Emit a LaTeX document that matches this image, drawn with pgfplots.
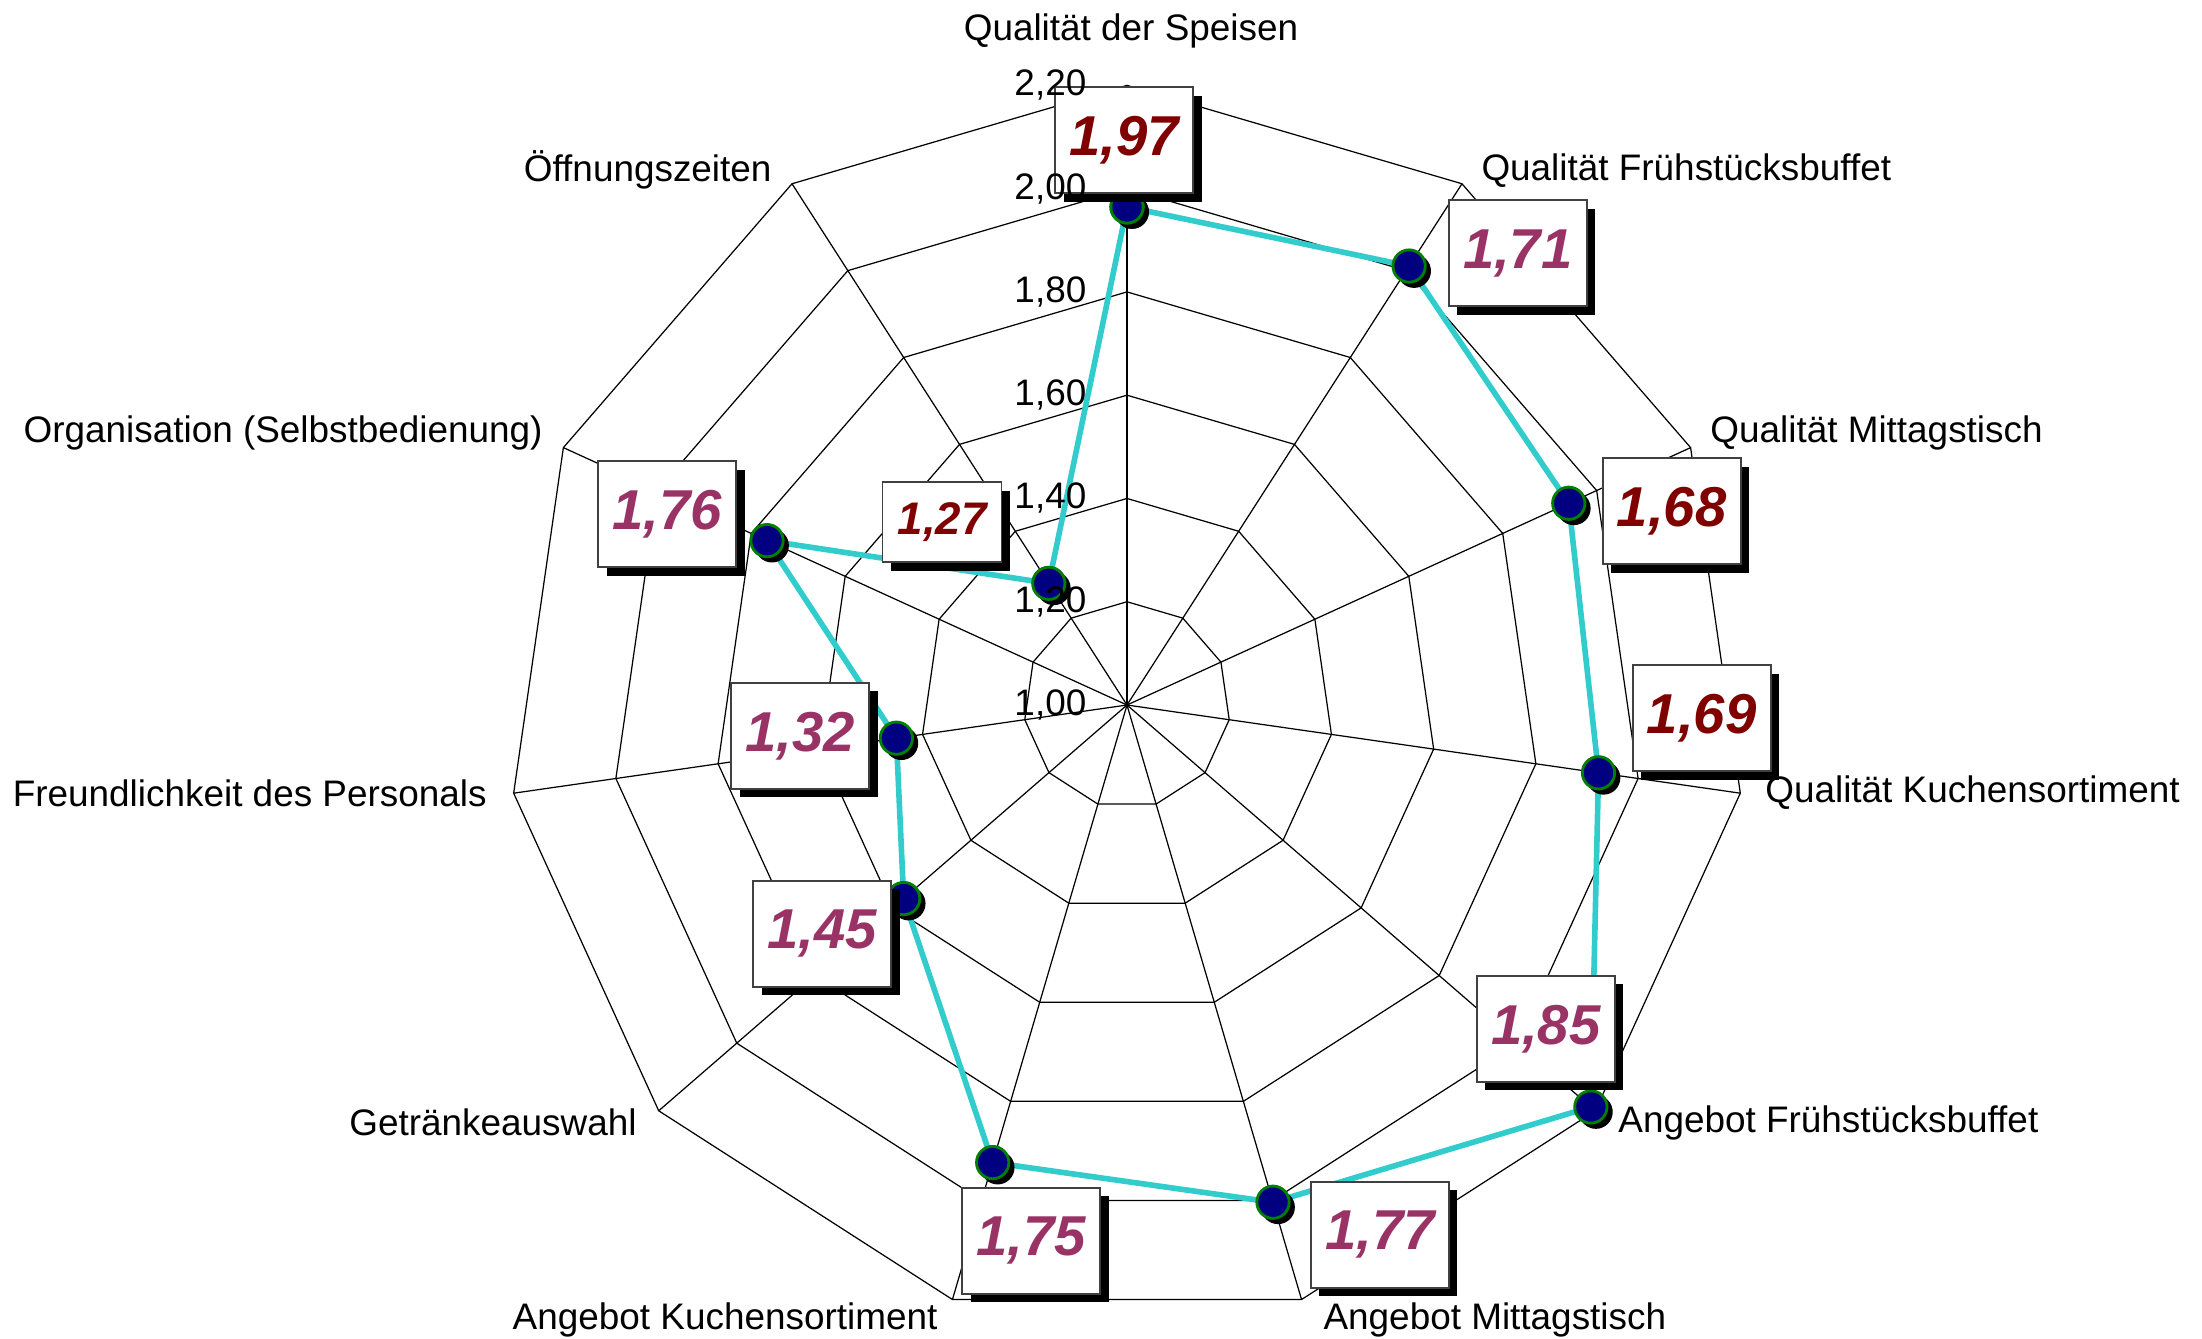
\documentclass[border=0pt]{standalone}
\usepackage{pgfplots}
\pgfplotsset{compat=1.18}
\usepackage{pgfplotstable}
\usepackage{fontspec}
\setmainfont{Liberation Sans}
\usetikzlibrary{shadows}

\definecolor{vdarkred}{RGB}{128,0,0}
\definecolor{vplum}{RGB}{153,51,102}
\definecolor{turq}{RGB}{51,204,204}
\definecolor{mnavy}{RGB}{0,0,128}
\definecolor{mgreen}{RGB}{0,128,0}

% plotted radii as drawn in the chart (scale 1.00 ... 2.20)
\pgfplotstableread{
idx val
0 1.964
1 2.01
2 1.94
3 1.922
4 2.188
5 2.003
6 1.923
7 1.572
8 1.451
9 1.766
10 1.28
11 1.964
}\ratings

\tikzset{
  vbox/.style={draw=black!75, line width=0.5pt, fill=white, inner sep=0pt,
    minimum width=1.38cm, minimum height=1.06cm,
    font=\fontsize{16}{16}\selectfont\bfseries\itshape,
    drop shadow={shadow xshift=0.085cm, shadow yshift=-0.085cm, opacity=1, fill=black}},
  sbox/.style={vbox, minimum width=1.19cm, minimum height=0.80cm,
    font=\fontsize{13}{13}\selectfont\bfseries\itshape},
  clab/.style={font=\fontsize{10.5}{12}\selectfont, inner sep=0pt},
}

\begin{document}
\begin{tikzpicture}
\useasboundingbox (-11.27cm,-6.33cm) rectangle (10.75cm,7.05cm);
% grid
\begin{scope}[x=0.01cm,y=0.01cm]
\foreach \r in {103.333,206.667,310,413.333,516.667,620}{
  \draw[line width=0.35pt] (90:\r) \foreach \k in {1,...,10}{ -- ({90-360/11*\k}:\r)} -- cycle;
}
\foreach \k in {0,...,10}{
  \draw[line width=0.35pt] (0,0) -- ({90-360/11*\k}:620);
}
\end{scope}

\begin{axis}[
  at={(0,0)}, anchor=origin,
  scale only axis, width=22.02cm, height=13.38cm,
  xmin=-1127, xmax=1075, ymin=-633, ymax=705,
  hide axis, clip=false,
]
\addplot[turq, line width=1.6pt, no markers]
  table[x expr={516.667*(\thisrow{val}-1)*cos(90-360/11*\thisrow{idx})},
        y expr={516.667*(\thisrow{val}-1)*sin(90-360/11*\thisrow{idx})}] {\ratings};
\addplot[only marks, mark=*, mark size=4.6pt, mark options={fill=black, draw=black}]
  table[x expr={5+516.667*(\thisrow{val}-1)*cos(90-360/11*\thisrow{idx})},
        y expr={-5+516.667*(\thisrow{val}-1)*sin(90-360/11*\thisrow{idx})}] {\ratings};
\addplot[only marks, mark=*, mark size=4.6pt, mark options={fill=mnavy, draw=mgreen, line width=0.8pt}]
  table[x expr={516.667*(\thisrow{val}-1)*cos(90-360/11*\thisrow{idx})},
        y expr={516.667*(\thisrow{val}-1)*sin(90-360/11*\thisrow{idx})}] {\ratings};
\end{axis}

\begin{scope}[x=0.01cm,y=0.01cm]
% category labels
\node[clab, anchor=center] at (4,674) {Qualität der Speisen};
\node[clab, anchor=west] at (354,535) {Qualität Frühstücksbuffet};
\node[clab, anchor=west] at (583,272) {Qualität Mittagstisch};
\node[clab, anchor=west] at (638,-88) {Qualität Kuchensortiment};
\node[clab, anchor=west] at (491,-418) {Angebot Frühstücksbuffet};
\node[clab, anchor=west] at (196,-615) {Angebot Mittagstisch};
\node[clab, anchor=east] at (-189,-615) {Angebot Kuchensortiment};
\node[clab, anchor=east] at (-490,-418) {Getränkeauswahl};
\node[clab, anchor=east] at (-640,-88) {Freundlichkeit des Personals};
\node[clab, anchor=east] at (-584,272) {Organisation (Selbstbedienung)};
\node[clab, anchor=east] at (-355,535) {Öffnungszeiten};
% value boxes
\node[vbox, text=vdarkred] at (-3,565) {1,97};
\node[vbox, text=vplum] at (391,452) {1,71};
\node[vbox, text=vdarkred] at (545,194) {1,68};
\node[vbox, text=vdarkred] at (575,-13) {1,69};
\node[vbox, text=vplum] at (419,-324) {1,85};
\node[vbox, text=vplum] at (253,-530) {1,77};
\node[vbox, text=vplum] at (-96,-536) {1,75};
\node[vbox, text=vplum] at (-305,-229) {1,45};
\node[vbox, text=vplum] at (-327,-31) {1,32};
\node[vbox, text=vplum] at (-460,191) {1,76};
\node[sbox, text=vdarkred] at (-185,183) {1,27};
% radial tick labels (drawn on top, as in the reference)
\foreach \r/\t in {0/{1,00},103.333/{1,20},206.667/{1,40},310/{1,60},413.333/{1,80},516.667/{2,00},620/{2,20}}{
  \node[clab, anchor=east] at (-40,\r) {\t};
}
\end{scope}
\end{tikzpicture}
\end{document}
